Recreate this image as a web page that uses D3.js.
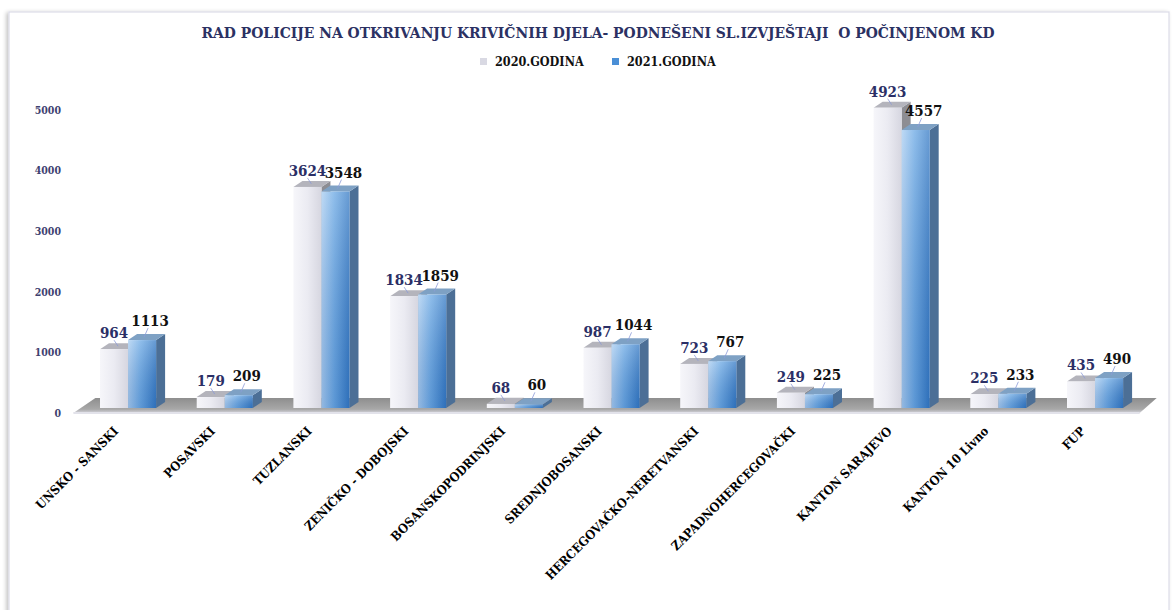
<!DOCTYPE html>
<html><head><meta charset="utf-8">
<script src="https://cdn.jsdelivr.net/npm/d3@7"></script>
<style>
html,body{margin:0;padding:0;background:#fff;overflow:hidden}
svg{display:block}
</style></head>
<body>
<svg id="c" width="1176" height="610"></svg>
<script>
const categories = ["UNSKO - SANSKI","POSAVSKI","TUZLANSKI","ZENIČKO - DOBOJSKI","BOSANSKOPODRINJSKI","SREDNJOBOSANSKI","HERCEGOVAČKO-NERETVANSKI","ZAPADNOHERCEGOVAČKI","KANTON SARAJEVO","KANTON 10 Livno","FUP"];
const seriesNames = ["2020.GODINA","2021.GODINA"];
const values2020 = [964,179,3624,1834,68,987,723,249,4923,225,435];
const values2021 = [1113,209,3548,1859,60,1044,767,225,4557,233,490];
const yTicks = [0,1000,2000,3000,4000,5000];
const titleText = "RAD POLICIJE NA OTKRIVANJU KRIVIČNIH DJELA- PODNEŠENI SL.IZVJEŠTAJI  O POČINJENOM KD";

const FONT = "'DejaVu Serif Condensed','DejaVu Serif',serif";
const svg = d3.select("#c");
const defs = svg.append("defs");

function lg(id, dir, stops){
  const g = defs.append("linearGradient").attr("id", id);
  if(dir==="h") g.attr("x1","0").attr("y1","0").attr("x2","1").attr("y2","0");
  else g.attr("x1","0").attr("y1","0").attr("x2","0").attr("y2","1");
  stops.forEach(s=>g.append("stop").attr("offset",s[0]).attr("stop-color",s[1]));
}
lg("gLight","h",[[0,"#f6f6fa"],[0.5,"#ebebf2"],[1,"#d6d6e0"]]);
lg("gBlue","h",[[0,"#a9cdf1"],[0.45,"#6aa8e4"],[1,"#3479c4"]]);
lg("gBlueV","v",[[0,"rgba(255,255,255,0.25)"],[1,"rgba(0,40,110,0.12)"]]);
lg("gFloor","v",[[0,"#8e8e8e"],[0.75,"#a8a8a8"],[1,"#d4d4dc"]]);
const f = defs.append("filter").attr("id","shadow").attr("x","-5%").attr("y","-5%").attr("width","110%").attr("height","110%");
f.append("feGaussianBlur").attr("in","SourceAlpha").attr("stdDeviation",2);
f.append("feOffset").attr("dx",-2).attr("dy",1).attr("result","ob");
f.append("feComponentTransfer").append("feFuncA").attr("type","linear").attr("slope",0.25);
const fm = f.append("feMerge"); fm.append("feMergeNode"); fm.append("feMergeNode").attr("in","SourceGraphic");

svg.append("rect").attr("x",9).attr("y",12).attr("width",1160).attr("height",640)
  .attr("fill","#fff").attr("stroke","#dcdce8").attr("stroke-width",1.2).attr("filter","url(#shadow)");

svg.append("text").attr("x",598).attr("y",38).attr("text-anchor","middle")
  .attr("font-family",FONT).attr("font-weight","bold").attr("font-size",14)
  .attr("fill","#2b3163").attr("textLength",793).attr("lengthAdjust","spacingAndGlyphs")
  .attr("xml:space","preserve").text(titleText);

const legendColors = ["#d9d9e3","#4a8fd6"];
const legX = [480,612];
seriesNames.forEach((s,i)=>{
  svg.append("rect").attr("x",legX[i]).attr("y",58).attr("width",7).attr("height",7).attr("fill",legendColors[i]);
  svg.append("text").attr("x",legX[i]+15).attr("y",66).attr("font-family",FONT).attr("font-weight","bold")
    .attr("font-size",12.5).attr("fill","#111").text(s);
});

const x0 = d3.scaleBand().domain(categories).range([59.4,1163.7]).paddingInner(0.42).paddingOuter(0.42);
const x1 = d3.scaleBand().domain(seriesNames).range([0,x0.bandwidth()]);
const yAxisScale = d3.scaleLinear().domain([0,5000]).range([413,110]);
const yBar = d3.scaleLinear().domain([0,5000]).range([408,103]);

const yAxis = d3.axisLeft(yAxisScale).tickValues(yTicks).tickFormat(d3.format("d")).tickSize(0).tickPadding(0);
const ya = svg.append("g").attr("transform","translate(61,0)").call(yAxis);
ya.select(".domain").remove();
ya.selectAll("text").attr("font-family",FONT).attr("font-weight","bold").attr("font-size",10.5).attr("fill","#3e4170");

const fl = [x0.range()[0]+14, x0.range()[1]-24];
svg.append("path").attr("d",`M${fl[0]},413 L${fl[0]+22},398 L${fl[1]+17},398 L${fl[1]},413 Z`)
  .attr("fill","url(#gFloor)");
svg.append("path").attr("d",`M${fl[0]},413 L${fl[1]},413`).attr("stroke","#e2e2ea").attr("stroke-width",2);

const DX = 9, DY = -6;
const faces = {
  "2020.GODINA": {front:"url(#gLight)", top:"#b4b4bc", side:"#8d8d93"},
  "2021.GODINA": {front:"url(#gBlue)", top:"#7ea1c4", side:"#4c6f96"}
};
const data = categories.map((c,i)=>({cat:c, vals:[values2020[i],values2021[i]]}));
const gBars = svg.append("g");
data.forEach(d=>{
  seriesNames.forEach((s,si)=>{
    const v = d.vals[si];
    const xl = x0(d.cat)+x1(s), w = x1.bandwidth();
    const yt = yBar(v), yb = yBar(0);
    const g = gBars.append("g");
    g.append("path").attr("d",`M${xl+w},${yb} L${xl+w+DX},${yb+DY} L${xl+w+DX},${yt+DY} L${xl+w},${yt} Z`).attr("fill",faces[s].side);
    g.append("path").attr("d",`M${xl},${yt} L${xl+DX},${yt+DY} L${xl+w+DX},${yt+DY} L${xl+w},${yt} Z`).attr("fill",faces[s].top);
    g.append("rect").attr("x",xl).attr("y",yt).attr("width",w).attr("height",yb-yt).attr("fill",faces[s].front);
    if(si===1) g.append("rect").attr("x",xl).attr("y",yt).attr("width",w).attr("height",yb-yt).attr("fill","url(#gBlueV)");
  });
});

const labelColors = ["#2b2f66","#111"];
data.forEach(d=>{
  seriesNames.forEach((s,si)=>{
    const v = d.vals[si];
    const xl = x0(d.cat)+x1(s), w = x1.bandwidth();
    const yt = yBar(v);
    const lx = si===0 ? xl+w/2 : xl+w/2+8;
    const ly = si===0 ? yt-11 : yt-14;
    svg.append("line").attr("x1",lx+ (si? -2:0)).attr("y1",ly+2).attr("x2",xl+w/2+ (si?2:4)).attr("y2",yt-3)
      .attr("stroke","#8c9ad8").attr("stroke-width",0.8);
    svg.append("text").attr("x",lx).attr("y",ly).attr("text-anchor","middle")
      .attr("font-family",FONT).attr("font-weight","bold").attr("font-size",15)
      .attr("fill",labelColors[si]).text(v);
  });
});

categories.forEach(c=>{
  const cx = x0(c)+x0.bandwidth()/2;
  svg.append("text").attr("transform",`translate(${cx-9},${432}) rotate(-45)`)
    .attr("text-anchor","end").attr("font-family",FONT).attr("font-weight","bold")
    .attr("font-size",12.5).attr("fill","#000").text(c);
});
</script>
</body></html>
